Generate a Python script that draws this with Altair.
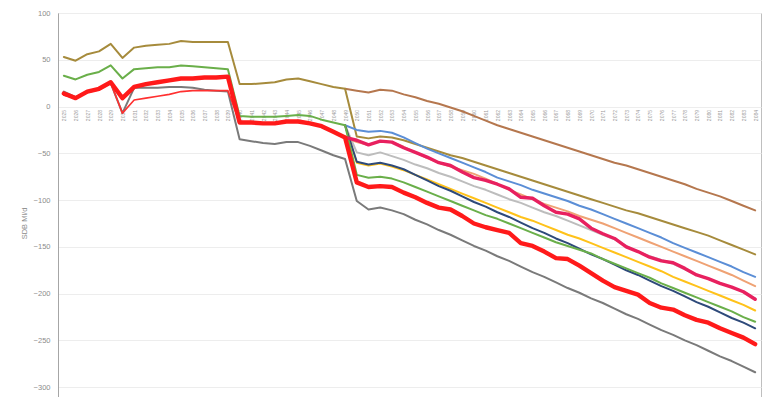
import altair as alt
import pandas as pd

years = list(range(2025, 2085))
N = None

gold = [53, 49, 56, 59, 67, 52, 63, 65, 66, 67, 70, 69, 69, 69, 69,
        24, 24, 25, 26, 29, 30, 27, 24, 21, 19,
        -32, -34, -32, -33, -36, -40, -44, -48, -52, -55, -59, -63, -67, -71, -75,
        -79, -83, -87, -91, -95, -99, -103, -107, -111, -114, -118, -122, -126, -130,
        -134, -138, -143, -148, -153, -158]
brown = [N] * 24 + [19,
         17, 15, 18, 17, 13, 10, 6, 3, -1, -5, -10, -15, -20, -24, -28, -32, -36, -40,
         -44, -48, -52, -56, -60, -63, -67, -71, -75, -79, -83, -88, -92, -96, -101,
         -106, -111]
green = [33, 29, 34, 37, 44, 30, 40, 41, 42, 42, 44, 43, 42, 41, 40,
         -10, -11, -11, -11, -10, -9, -10, -14, -17, -20,
         -73, -76, -75, -77, -81, -86, -91, -96, -101, -106, -111, -116, -120, -125,
         -130, -135, -140, -145, -149, -153, -157, -163, -168, -173, -178, -183, -189,
         -194, -199, -204, -209, -214, -219, -225, -230]
red = [14, 9, 16, 19, 26, 9, 21, 24, 26, 28, 30, 30, 31, 31, 32,
       -17, -17, -18, -18, -16, -16, -18, -21, -27, -33,
       -81, -86, -85, -86, -92, -97, -103, -108, -110, -117, -125, -129, -132, -135,
       -146, -149, -155, -162, -163, -170, -178, -186, -193, -197, -201, -210, -215,
       -217, -223, -228, -231, -237, -242, -247, -254]
red_thin = [12, 9, 15, 18, 25, -7, 7, 9, 11, 13, 16, 17, 17, 17, 17, -17] + [N] * 44
grey = [16, 10, 16, 19, 25, -7, 20, 20, 20, 21, 21, 20, 18, 17, 16,
        -35, -37, -39, -40, -38, -38, -42, -47, -52, -56,
        -101, -110, -108, -111, -115, -121, -126, -132, -137, -143, -149, -154, -160,
        -165, -171, -177, -182, -188, -194, -199, -205, -210, -216, -222, -227, -233,
        -239, -244, -250, -255, -261, -267, -272, -278, -284]
blue = [N] * 24 + [-20,
        -25, -27, -26, -28, -33, -39, -45, -50, -55, -60, -65, -70, -76, -80, -84, -89,
        -93, -97, -101, -106, -110, -115, -120, -125, -130, -135, -140, -146, -151,
        -156, -161, -166, -171, -177, -182]
orange = [N] * 24 + [-33,
          -38, -41, -37, -38, -43, -49, -55, -60, -64, -68, -72, -77, -83, -89, -94,
          -99, -104, -108, -112, -117, -121, -125, -130, -135, -140, -145, -150, -155,
          -160, -165, -170, -175, -180, -186, -192]
magenta = [N] * 24 + [-33,
           -36, -41, -37, -38, -44, -49, -54, -60, -63, -70, -76, -79, -83, -88, -97,
           -98, -106, -113, -115, -120, -130, -136, -141, -150, -155, -161, -165, -167,
           -173, -180, -184, -189, -193, -198, -206]
silver = [N] * 24 + [-20,
          -49, -52, -49, -53, -57, -62, -66, -71, -75, -80, -85, -89, -94, -99, -103,
          -108, -113, -117, -122, -127, -132, -137, -142, -149, -155, -160, -164, -168,
          -174, -180, -184, -189, -193, -198, -205]
navy = [N] * 24 + [-20,
        -59, -62, -60, -63, -67, -73, -79, -85, -90, -96, -102, -107, -113, -118, -124,
        -130, -135, -141, -146, -152, -158, -163, -169, -175, -180, -186, -192, -197,
        -203, -209, -214, -220, -226, -231, -237]
yellow = [N] * 24 + [-20,
          -60, -63, -61, -64, -68, -73, -78, -83, -88, -93, -98, -103, -108, -113, -118,
          -122, -127, -132, -137, -141, -146, -151, -156, -161, -166, -171, -176, -182,
          -187, -192, -197, -202, -207, -212, -218]

y_ticks = [-300, -250, -200, -150, -100, -50, 0, 50, 100]

# drawing order: bottom -> top
series = [
    ("brown", brown, "#B5774E", 2),
    ("gold", gold, "#A68B3C", 2),
    ("silver", silver, "#BDBDBD", 2),
    ("orange", orange, "#EFA274", 2),
    ("blue", blue, "#5B8ED6", 2),
    ("yellow", yellow, "#FFC21A", 2),
    ("navy", navy, "#2E4A7A", 2),
    ("green", green, "#6AAF4A", 2),
    ("grey", grey, "#7A7A7A", 2),
    ("red_thin", red_thin, "#FF3030", 1.6),
    ("magenta", magenta, "#E8205F", 3.4),
    ("red", red, "#FF1A1A", 4.4),
]

rows = []
for name, vals, _c, _w in series:
    for yr, v in zip(years, vals):
        if v is not None:
            rows.append({"year": str(yr), "series": name, "value": v})
df = pd.DataFrame(rows)

W, H = 703, 421

x_enc = alt.X(
    "year:O",
    scale=alt.Scale(type="point", padding=0.5),
    axis=alt.Axis(
        orient="bottom", offset=-327.5, labelAngle=270, labelFontSize=5,
        labelColor="#9A9A9A", labelFont="Liberation Sans", ticks=False,
        domain=False, grid=False, labelPadding=3, labelOverlap=False, title=None,
    ),
)
y_enc = alt.Y(
    "value:Q",
    scale=alt.Scale(domain=[-350, 100], nice=False, zero=False),
    axis=alt.Axis(
        values=y_ticks, labelFontSize=7.5, labelColor="#8C8C8C",
        labelFont="Liberation Sans", ticks=False, labelPadding=8,
        domainColor="#A6A6A6", gridColor="#EDEDED", title="SDB Ml/d",
        titleFontSize=7.5, titleColor="#8C8C8C", titleFont="Liberation Sans",
        titleFontWeight="normal", titleX=-34, titleY=210, titleAngle=270,
        titleAlign="center", titleBaseline="middle",
    ),
)

layers = []
for name, _v, color, w in series:
    layers.append(
        alt.Chart(df)
        .transform_filter(alt.datum.series == name)
        .mark_line(color=color, strokeWidth=w, strokeJoin="round", strokeCap="round")
        .encode(x=x_enc, y=y_enc)
    )

chart = (
    alt.layer(*layers)
    .properties(
        width=W, height=H,
        padding={"left": 58, "top": 13, "right": 7, "bottom": 0},
        autosize=alt.AutoSizeParams(type="none"),
        background="white",
    )
    .configure_view(stroke="#BFBFBF", strokeWidth=1)
)

chart.save("out.html", embed_options={"renderer": "svg", "actions": False})
